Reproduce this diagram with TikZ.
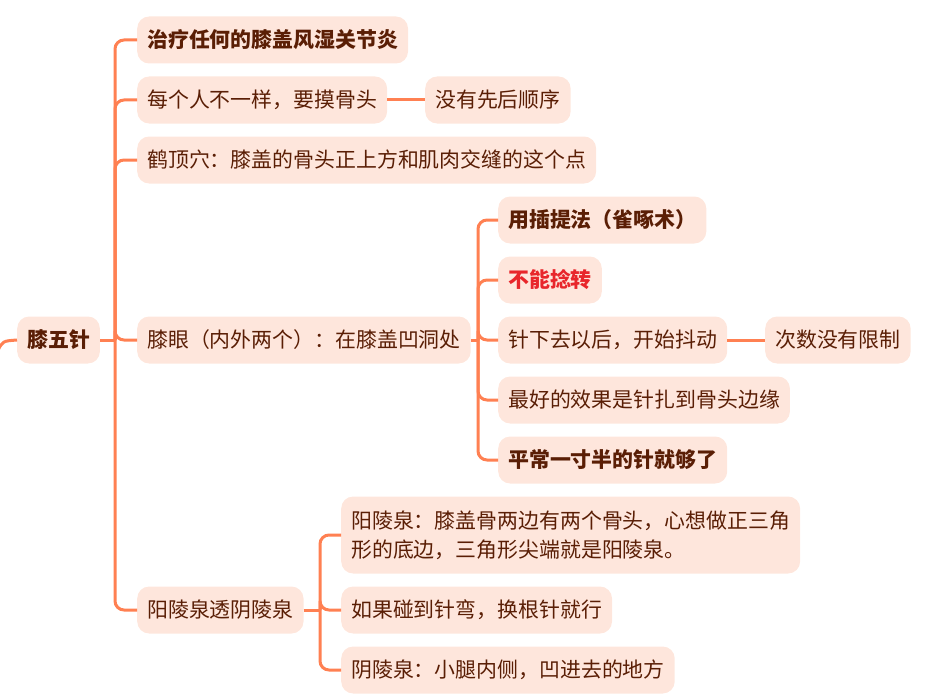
\documentclass[tikz,border=0pt]{standalone}
\usepackage{fontspec}
\setmainfont{Noto Sans CJK SC}
\definecolor{fillc}{HTML}{FEE6DC}
\definecolor{linec}{HTML}{FF8052}
\definecolor{textc}{HTML}{5A1E05}
\definecolor{redc}{HTML}{E8262B}
\begin{document}
\begin{tikzpicture}[x=1pt,y=-1pt,
  box/.style={fill=fillc, rounded corners=12pt, text=textc,
    font=\fontsize{20.9}{29}\selectfont, inner xsep=10pt, inner ysep=0pt,
    minimum height=47pt, anchor=west},
  boldbox/.style={box, font=\fontsize{20.9}{29}\selectfont\bfseries},
  conn/.style={draw=linec, line width=3pt, rounded corners=9pt}]
\useasboundingbox (0,0) rectangle (941,698);

% nodes
\node[boldbox] (root) at (17,340) {膝五针};
\node[boldbox] (a1) at (137,40) {治疗任何的膝盖风湿关节炎};
\node[box] (a2) at (137,100) {每个人不一样，要摸骨头};
\node[box] (a2a) at (425,100) {没有先后顺序};
\node[box] (a3) at (137,160) {鹤顶穴：膝盖的骨头正上方和肌肉交缝的这个点};
\node[box] (a4) at (137,340) {膝眼（内外两个）：在膝盖凹洞处};
\node[box] (a5) at (137,610) {阳陵泉透阴陵泉};

\node[boldbox] (b1) at (498,220) {用插提法（雀啄术）};
\node[boldbox, text=redc] (b2) at (498,280) {不能捻转};
\node[box] (b3) at (498,340) {针下去以后，开始抖动};
\node[box] (b3a) at (765,340) {次数没有限制};
\node[box] (b4) at (498,400) {最好的效果是针扎到骨头边缘};
\node[boldbox] (b5) at (498,460) {平常一寸半的针就够了};

\node[box, align=left, minimum height=77pt] (c1) at (341,535) {阳陵泉：膝盖骨两边有两个骨头，心想做正三角\\形的底边，三角形尖端就是阳陵泉。};
\node[box] (c2) at (341,610) {如果碰到针弯，换根针就行};
\node[box] (c3) at (341,670) {阴陵泉：小腿内侧，凹进去的地方};

% junctions
\coordinate (j1) at (115,340);
\coordinate (j2) at (478,340);
\coordinate (j3) at (320,610);
\coordinate (lin) at (-2,350);

% connectors
\draw[conn] (lin) .. controls (3,341) .. (root.west);
\draw[conn] (root.east) -- (j1);
\foreach \n in {a1,a2,a3,a4,a5} \draw[conn] (j1) |- (\n.west);
\draw[conn] (a2.east) -- (a2a.west);
\draw[conn] (a4.east) -- (j2);
\foreach \n in {b1,b2,b3,b4,b5} \draw[conn] (j2) |- (\n.west);
\draw[conn] (b3.east) -- (b3a.west);
\draw[conn] (a5.east) -- (j3);
\foreach \n in {c1,c2,c3} \draw[conn] (j3) |- (\n.west);
\end{tikzpicture}
\end{document}
